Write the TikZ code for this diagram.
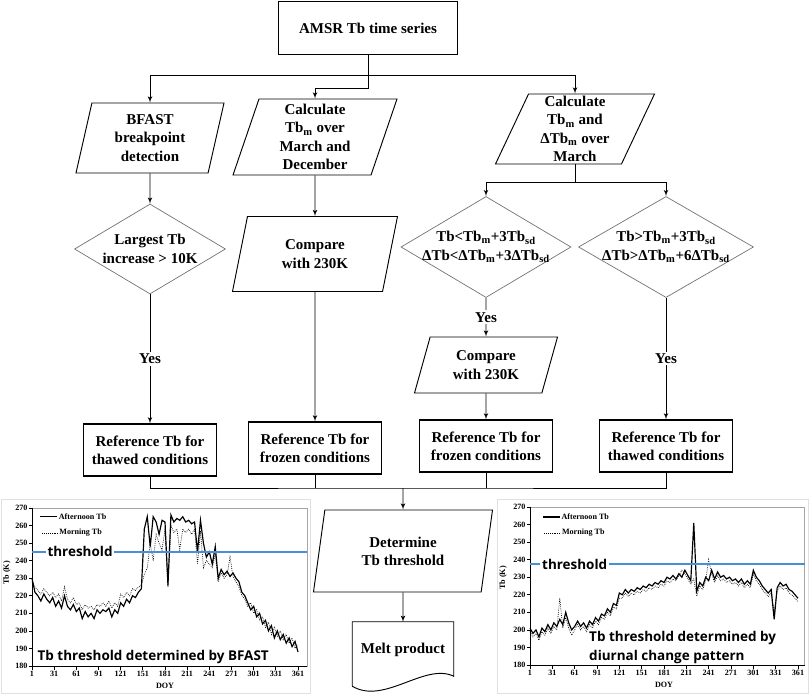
\documentclass[tikz,border=0pt]{standalone}
\usepackage{fontspec}
\setmainfont{Liberation Serif}
\newfontfamily\chartfont{Open Sans}
\usetikzlibrary{shapes,arrows}
\definecolor{thrblue}{RGB}{72,144,214}
\tikzstyle{block} = [rectangle, draw, line width=1.1pt, minimum width=39.9mm,
    minimum height=15.6mm, align=center]
\tikzstyle{io} = [trapezium, trapezium stretches body=true, draw, line width=0.8pt,
    inner ysep=1pt, align=center]
\tikzstyle{decision} = [diamond, draw=black!55, line width=0.6pt, aspect=1.7,
    inner sep=-3mm, align=center]
\tikzstyle{doc} = [rectangle, minimum width=30.3mm, minimum height=16.8mm]
\tikzstyle{line} = [draw, line width=0.8pt, -latex']
\tikzstyle{yes} = [fill=white, inner sep=1.5pt]
\tikzstyle{tb} = [line width=1pt]
\tikzstyle{tbm} = [densely dotted, line width=0.6pt]
\tikzstyle{thr} = [draw=thrblue, line width=1.3pt]
\tikzstyle{tick} = [font=\bfseries\fontsize{6.9}{7.5}\selectfont]
\tikzstyle{chartlbl} = [font=\chartfont\bfseries\fontsize{11.5}{16}\selectfont]

\begin{document}
\begin{tikzpicture}[x=0.3mm, y=-0.3mm, font=\bfseries\fontsize{12.8}{15.6}\selectfont]
    \useasboundingbox (0,0) rectangle (809,696);
    % Place nodes
    \node [block, minimum width=53.7mm, minimum height=15.9mm] (ts) at (368,28) {AMSR Tb time series};
    \node [io, trapezium left angle=72, trapezium right angle=108,
        minimum width=44.4mm, minimum height=21mm] (bfast) at (150,138) {BFAST\\breakpoint\\detection};
    \node [decision, minimum width=45.3mm, minimum height=27mm,
        node distance=33.3mm, below of=bfast] (largest) {Largest Tb\\increase > 10K};
    \node [block, node distance=60.3mm, below of=largest] (ref1) {Reference Tb for\\thawed conditions};
    \node [io, trapezium left angle=69, trapezium right angle=111,
        minimum width=49.2mm, minimum height=22.8mm] (calc1) at (315,137) {Calculate\\Tb\textsubscript{m} over\\March and\\December};
    \node [io, trapezium left angle=64, trapezium right angle=116,
        minimum width=49.5mm, minimum height=22.5mm,
        node distance=35.1mm, below of=calc1] (cmp1) {Compare\\with 230K};
    \node [block, node distance=58.2mm, below of=cmp1] (ref2) {Reference Tb for\\frozen conditions};
    \node [io, trapezium left angle=64, trapezium right angle=116,
        minimum width=47.7mm, minimum height=21mm] (calc2) at (575,129) {Calculate\\Tb\textsubscript{m} and\\ΔTb\textsubscript{m} over\\March};
    \node [decision, minimum width=51mm, minimum height=30.3mm] (cold) at (486,247)
        {Tb<Tb\textsubscript{m}+3Tb\textsubscript{sd}\\ΔTb<ΔTb\textsubscript{m}+3ΔTb\textsubscript{sd}};
    \node [io, trapezium left angle=63, trapezium right angle=117,
        minimum width=42.9mm, minimum height=16.8mm,
        node distance=35.4mm, below of=cold] (cmp2) {Compare\\with 230K};
    \node [block, node distance=24.3mm, below of=cmp2] (ref3) {Reference Tb for\\frozen conditions};
    \node [decision, minimum width=52.5mm, minimum height=30.3mm] (warm) at (666,247)
        {Tb>Tb\textsubscript{m}+3Tb\textsubscript{sd}\\ΔTb>ΔTb\textsubscript{m}+6ΔTb\textsubscript{sd}};
    \node [block, node distance=59.7mm, below of=warm] (ref4) {Reference Tb for\\thawed conditions};
    \node [io, trapezium left angle=70, trapezium right angle=110,
        minimum width=53.7mm, minimum height=24.6mm] (det) at (403,551) {Determine\\Tb threshold};
    \node [doc, node distance=29.7mm, below of=det] (melt) {Melt product};
    \draw [line width=0.8pt] ([yshift=-2.4mm]melt.south west) -- (melt.north west) -- (melt.north east)
        -- ([yshift=0.6mm]melt.south east) .. controls +(-8.7mm,4.2mm) and +(9.6mm,-5.7mm) .. ([yshift=-2.4mm]melt.south west);
    \coordinate (bus1) at (368,75);
    \coordinate (bus2) at (368,88);
    \coordinate (bus4) at (403,488);
    % Draw edges
    \path [line] (ts.south) -- (bus2) -| (calc1.north);
    \path [line] (bus1) -| (bfast.north);
    \path [line] (bus1) -| (calc2.north);
    \path [line] (bfast.south) -- (largest.north);
    \path [line] (largest.south) -- node [yes] {Yes} (ref1.north);
    \path [line] (calc1.south) -- (cmp1.north);
    \path [line] (cmp1.south) -- (ref2.north);
    \path [line] (calc2.south) -- ++(0,18) -| (cold.north);
    \path [line] (calc2.south) -- ++(0,18) -| (warm.north);
    \path [line] (cold.south) -- node [yes] {Yes} (cmp2.north);
    \path [line] (cmp2.south) -- (ref3.north);
    \path [line] (warm.south) -- node [yes] {Yes} (ref4.north);
    \draw [line width=0.8pt] (ref1.south) |- (bus4) -| (ref4.south);
    \draw [line width=0.8pt] (ref2.south) -- (ref2.south |- bus4);
    \draw [line width=0.8pt] (ref3.south) -- (ref3.south |- bus4);
    \path [line] (bus4) -- (det.north);
    \path [line] (det.south) -- (melt.north);

    % BFAST chart
    \draw [black!12] (1,499) rectangle (310,693);
    \begin{scope}[shift={(31.26,982.08)}, xscale=0.7389, yscale=-1.756]
        \draw [black!35, line width=0.4pt] (1,180) rectangle (373,270);
        \draw [line width=0.6pt] (1,270) -- (1,180) -- (373,180);
        \foreach \t in {180,190,...,270}
            \draw [line width=0.6pt] (1,\t) -- ++(-4,0) node [tick, left, inner sep=1pt] {\t};
        \foreach \d in {1,31,...,361}
            \draw [line width=0.6pt] (\d,180) -- ++(0,-2) node [tick, below, inner sep=1pt] {\d};
        \node [tick] at (181,168.6) {DOY};
        \node [tick, rotate=90] at (-33,233) {Tb (K)};
        \draw [tb] (12,265) -- (35,265) node [tick, right, inner sep=1pt] {Afternoon Tb};
        \draw [tbm] (15,255.7) -- (36,255.7) node [tick, right, inner sep=1pt] {Morning Tb};
        \draw [tbm] (1,228) \foreach \v [count=\i] in {
            225,223,221,224,222,220,222,219,221,217,
            225,218,216,219,215,216,212,215,213,214,
            212,215,214,216,214,217,213,216,214,221,
            219,222,220,224,223,225,226,232,236,250,
            240,255,250,246,258,225,260,256,258,246,
            258,256,258,255,258,238,257,236,240,238,
            236,244,228,233,230,232,242,231,228,225,
            220,218,214,216,210,212,206,208,202,205,
            198,202,197,200,195,198,193,196,190,192} {-- (4*\i+1,\v)};
        \draw [tb] (1,230) \foreach \v [count=\i] in {
            222,220,217,221,218,216,219,214,217,213,
            220,214,212,215,211,213,207,211,208,210,
            207,212,210,212,211,213,208,212,210,216,
            214,218,216,220,219,222,224,258,265,248,
            265,262,255,263,262,226,266,262,264,263,
            265,262,263,261,262,245,263,250,242,245,
            238,248,230,235,232,234,231,233,230,228,
            222,220,216,212,214,208,210,204,206,200,
            203,196,200,195,198,193,196,191,194,188} {-- (4*\i+1,\v)};
        \draw [thr] (1,245) -- (373,245);
        \node [chartlbl, fill=white, inner sep=1.5pt] at (66,245) {threshold};
        \node [chartlbl] at (165,185.1) {Tb threshold determined by BFAST};
    \end{scope}

    % diurnal chart
    \draw [black!12] (497,499) rectangle (808,693);
    \begin{scope}[shift={(529.26,981.0)}, xscale=0.7444, yscale=-1.7556]
        \draw [black!35, line width=0.4pt] (1,180) rectangle (370,270);
        \draw [line width=0.6pt] (1,270) -- (1,180) -- (370,180);
        \foreach \t in {180,190,...,270}
            \draw [line width=0.6pt] (1,\t) -- ++(-4,0) node [tick, left, inner sep=1pt] {\t};
        \foreach \d in {1,31,...,361}
            \draw [line width=0.6pt] (\d,180) -- ++(0,-2) node [tick, below, inner sep=1pt] {\d};
        \node [tick] at (181,168.6) {DOY};
        \node [tick, rotate=90] at (-35,229.6) {Tb (K)};
        \draw [tb] (18.5,264.3) -- (41,264.3) node [tick, right, inner sep=1pt] {Afternoon Tb};
        \draw [tbm] (20,255.2) -- (42,255.2) node [tick, right, inner sep=1pt] {Morning Tb};
        \draw [tbm] (1,199) \foreach \v [count=\i] in {
            196,198,194,199,197,201,198,202,200,218,
            201,207,201,197,200,203,200,202,199,203,
            201,205,203,207,206,210,208,213,212,218,
            218,221,219,221,220,222,221,223,222,224,
            223,225,224,226,225,228,227,229,228,231,
            234,232,229,226,229,219,225,223,228,240,
            232,227,231,228,229,227,228,226,227,225,
            227,224,226,224,232,228,226,223,221,219,
            221,210,222,225,223,224,221,220,218,216} {-- (4*\i+1,\v)};
        \draw [tb] (1,201) \foreach \v [count=\i] in {
            198,200,196,201,199,203,200,204,202,206,
            203,210,204,200,202,205,202,204,201,205,
            203,207,205,209,208,212,210,215,214,221,
            220,223,221,223,222,224,223,225,224,226,
            225,227,226,228,227,230,229,231,229,232,
            230,234,231,228,261,222,227,225,230,228,
            234,229,233,230,231,229,230,228,229,227,
            229,226,228,226,234,230,228,225,223,221,
            223,206,224,227,225,226,223,222,220,218} {-- (4*\i+1,\v)};
        \draw [thr] (1,237.5) -- (370,237.5);
        \node [chartlbl, fill=white, inner sep=1.5pt] at (61,237.5) {threshold};
        \node [chartlbl, anchor=west, align=left] at (75,190) {Tb threshold determined by\\diurnal change pattern};
    \end{scope}
\end{tikzpicture}
\end{document}
